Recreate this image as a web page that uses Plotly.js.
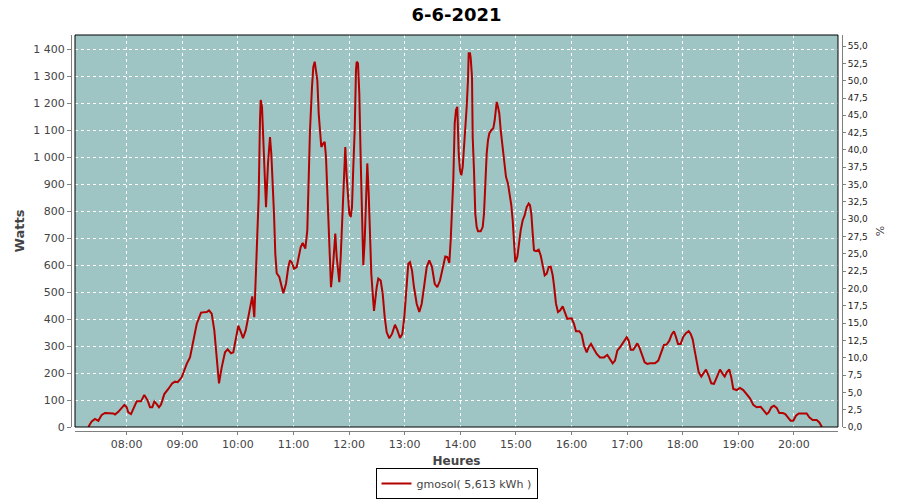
<!DOCTYPE html>
<html>
<head>
<meta charset="utf-8">
<script src="https://cdn.plot.ly/plotly-3.0.1.min.js"></script>
<style>html,body{margin:0;padding:0;background:#fff;}#chart{width:900px;height:500px;}</style>
</head>
<body>
<div id="chart"></div>
<script>
const day = "2021-06-06 ";
const times = [
"07:18:36","07:22:14","07:25:47","07:29:21","07:33:01","07:36:35","07:45:32","07:47:22","07:50:56","07:57:25",
"08:00:00","08:01:44","08:04:38","08:08:58","08:10:47","08:15:26","08:18:59","08:22:40","08:25:08","08:27:37",
"08:29:47","08:32:22","08:34:51","08:37:01","08:40:34","08:44:53","08:49:13","08:52:07","08:55:02","08:59:21",
"09:04:45","09:08:18","09:11:52","09:15:32","09:20:11","09:26:20","09:28:49","09:31:43","09:34:32","09:37:07",
"09:39:36","09:42:31","09:46:05","09:48:59","09:52:33","09:55:02","09:58:42","10:00:26","10:03:20","10:05:30",
"10:08:25","10:11:13","10:14:08","10:15:32","10:17:41","10:19:12","10:20:56","10:22:26","10:23:50","10:24:36",
"10:26:00","10:27:25","10:28:55","10:30:19","10:32:29","10:34:38","10:36:02","10:37:33","10:38:57","10:40:21",
"10:41:52","10:44:40","10:46:50","10:48:59","10:51:54","10:54:23","10:56:13","10:58:23","11:00:32","11:03:27",
"11:05:37","11:07:46","11:09:55","11:12:44","11:14:53","11:16:24","11:17:48","11:19:58","11:21:22","11:22:52",
"11:25:41","11:27:11","11:28:35","11:29:59","11:32:09","11:33:40","11:35:04","11:36:28","11:37:59","11:39:23",
"11:40:28","11:42:17","11:43:42","11:45:06","11:46:37","11:48:01","11:49:25","11:50:56","11:52:20","11:53:44",
"11:55:14","11:55:53","11:57:24","11:58:49","12:00:13","12:01:43","12:03:07","12:04:32","12:06:02","12:07:26",
"12:08:11","12:09:36","12:11:00","12:12:31","12:13:55","12:15:19","12:16:50","12:18:14","12:19:38","12:21:08",
"12:22:33","12:23:57","12:25:28","12:26:52","12:29:47","12:31:30","12:34:05","12:36:15","12:38:25","12:40:34",
"12:43:22","12:46:17","12:49:31","12:52:00","12:54:55","12:57:24","12:59:34","13:02:09","13:03:52","13:05:43",
"13:07:52","13:10:02","13:12:56","13:15:45","13:18:20","13:20:49","13:23:44","13:26:32","13:29:27","13:32:22",
"13:35:10","13:38:05","13:41:00","13:43:48","13:45:58","13:48:07","13:49:38","13:51:02","13:52:26","13:53:57",
"13:55:21","13:56:45","13:58:16","13:59:40","14:01:04","14:02:35","14:03:59","14:05:23","14:06:54","14:08:18",
"14:09:03","14:10:27","14:11:13","14:12:37","14:13:22","14:14:46","14:15:32","14:16:10","14:17:41","14:19:05",
"14:22:00","14:24:10","14:25:34","14:26:58","14:28:29","14:29:53","14:31:17","14:33:26","14:35:36","14:37:07",
"14:38:31","14:39:16","14:40:40","14:42:05","14:43:35","14:44:59","14:46:23","14:47:54","14:49:18","14:51:28",
"14:53:37","14:55:02","14:56:32","14:57:56","14:59:20","15:01:30","15:03:01","15:05:10","15:07:19","15:09:29",
"15:11:38","15:13:48","15:15:12","15:16:37","15:18:07","15:19:31","15:21:41","15:24:35","15:26:45","15:28:55",
"15:31:04","15:33:13","15:35:23","15:37:32","15:39:42","15:41:06","15:43:16","15:45:25","15:47:35","15:50:29",
"15:52:58","15:55:27","16:00:12","16:02:41","16:04:50","16:08:24","16:10:59","16:13:28","16:16:23","16:18:32",
"16:21:02","16:23:31","16:27:11","16:30:44","16:35:03","16:38:37","16:41:32","16:44:26","16:46:55","16:49:25",
"16:53:05","16:56:38","16:59:33","17:01:43","17:03:52","17:06:40","17:08:50","17:10:59","17:13:09","17:16:04",
"17:18:58","17:21:47","17:24:41","17:30:05","17:33:39","17:36:14","17:39:48","17:42:43","17:45:31","17:48:07",
"17:50:35","17:52:45","17:54:55","17:57:49","18:00:38","18:03:32","18:06:27","18:08:37","18:10:46","18:12:56",
"18:15:05","18:17:15","18:20:03","18:22:58","18:25:07","18:28:02","18:30:50","18:33:45","18:36:40","18:40:14",
"18:43:08","18:45:18","18:47:28","18:50:16","18:52:25","18:54:35","18:58:15","19:01:49","19:05:22","19:09:02",
"19:12:36","19:16:10","19:19:50","19:24:09","19:26:57","19:30:37","19:32:47","19:35:35","19:38:30","19:41:25",
"19:44:13","19:47:53","19:50:41","19:53:37","19:56:31","19:59:20","20:02:14","20:05:10","20:13:47","20:16:35",
"20:20:16","20:24:35","20:27:23","20:30:18"
];
const watts = [
0,21,30,23,45,52,50,46,56,82,
73,54,48,85,95,95,119,98,73,73,
95,85,73,83,122,141,162,168,166,184,
234,258,320,382,424,426,432,420,358,246,
162,221,277,288,273,277,351,376,351,329,
358,413,469,484,407,531,673,853,1137,1212,
1187,1063,915,815,977,1075,1014,915,791,642,
570,556,525,496,531,593,618,608,587,593,
630,667,682,661,729,939,1100,1261,1335,1354,
1286,1162,1088,1038,1051,1057,1001,890,766,655,
518,580,667,717,630,568,537,630,741,890,
1026,1038,927,865,791,778,815,964,1100,1323,
1354,1348,1237,989,741,600,692,865,977,865,
680,568,494,430,518,550,543,494,407,351,
329,345,379,360,330,345,407,518,605,611,
580,518,457,426,457,518,593,618,593,531,
518,543,593,632,630,608,692,803,915,1125,
1175,1187,1014,952,933,964,1026,1100,1187,1286,
1385,1385,1367,1298,1075,952,865,791,741,726,
726,741,791,902,1014,1063,1088,1100,1107,1137,
1181,1205,1187,1162,1100,1051,1007,964,927,902,
853,822,766,680,611,630,680,729,766,785,
815,828,822,791,717,655,652,657,636,593,
562,568,593,595,562,525,457,426,432,447,
420,401,403,382,355,355,343,302,277,296,
308,292,271,258,258,267,252,236,246,283,
299,318,333,320,286,286,299,310,296,265,
240,234,236,236,246,271,304,306,320,343,
355,333,308,308,335,348,355,345,325,283,
234,203,187,205,213,190,162,160,184,213,
197,187,203,213,184,141,137,145,137,123,
106,82,73,75,63,48,54,73,79,71,
52,52,48,36,23,23,42,50,50,36,
26,26,17,0
];
const seriesName = "gmosol( 5,613 kWh )";
const chartTitle = "6-6-2021";

const tickColor = "#808080";
const textColor = "#444444";
const fontFam = "DejaVu Sans, Verdana, sans-serif";

const trace = {
  x: times.map(t => day + t),
  y: watts,
  type: "scatter",
  mode: "lines",
  name: seriesName,
  line: {color: "#b30000", width: 2},
  showlegend: true,
  hoverinfo: "skip"
};

const layout = {
  width: 900, height: 500,
  margin: {l: 71, r: 58, t: 35, b: 69, autoexpand: false},
  paper_bgcolor: "#ffffff",
  plot_bgcolor: "#9fc4c4",
  separators: ", ",
  font: {family: fontFam, size: 11, color: textColor},
  title: {text: "<b>" + chartTitle + "</b>", x: 0.5, xref: "paper", xanchor: "center",
          y: 0.97, yref: "container", yanchor: "middle",
          font: {family: fontFam, size: 18, color: "#000000"}},
  xaxis: {
    type: "date",
    domain: [0.0052, 0.9948],
    anchor: "free", position: 0,
    range: [day + "07:04:13", day + "20:47:34"],
    tick0: day + "08:00:00", dtick: 3600000,
    tickformat: "%H:%M",
    showline: true, linecolor: tickColor, linewidth: 1,
    ticks: "outside", ticklen: 3, tickcolor: tickColor,
    showgrid: true, gridcolor: "#ffffff", gridwidth: 1, griddash: "3px,3px",
    zeroline: false,
    tickfont: {family: fontFam, size: 11, color: textColor},
    title: {text: "<b>Heures</b>", standoff: 7, font: {family: fontFam, size: 12, color: textColor}}
  },
  yaxis: {
    domain: [0.0101, 1],
    anchor: "free", position: 0,
    range: [0, 1453],
    dtick: 100, tick0: 0,
    separatethousands: true,
    showline: true, linecolor: tickColor, linewidth: 1,
    ticks: "outside", ticklen: 4, tickcolor: tickColor,
    showgrid: true, gridcolor: "#ffffff", gridwidth: 1, griddash: "3px,3px",
    zeroline: false,
    tickfont: {family: fontFam, size: 11, color: textColor},
    title: {text: "<b>Watts</b>", standoff: 4, font: {family: fontFam, size: 13, color: textColor}}
  },
  yaxis2: {
    overlaying: "y",
    side: "right",
    anchor: "free", position: 1,
    range: [0, 56.6],
    dtick: 2.5, tick0: 0,
    tickformat: ".1f",
    showline: true, linecolor: tickColor, linewidth: 1,
    ticks: "outside", ticklen: 3, tickcolor: tickColor,
    showgrid: false, zeroline: false,
    tickfont: {family: fontFam, size: 9, color: "#222222"},
    title: {text: "%", standoff: 9, font: {family: fontFam, size: 11, color: textColor}}
  },
  shapes: [{
    type: "rect", xref: "x domain", yref: "y domain", x0: 0, x1: 1, y0: 0, y1: 1,
    line: {color: "#000000", width: 1}, fillcolor: "rgba(0,0,0,0)", layer: "above"
  }],
  showlegend: true,
  legend: {
    orientation: "h", x: 0.5, xanchor: "center", xref: "paper",
    y: 0.002, yanchor: "bottom", yref: "container",
    bordercolor: "#000000", borderwidth: 1, bgcolor: "#ffffff",
    itemwidth: 30,
    font: {family: fontFam, size: 11, color: textColor}
  }
};

const dummy2 = {x: [], y: [], yaxis: "y2", type: "scatter", mode: "lines", showlegend: false, hoverinfo: "skip"};

Plotly.newPlot("chart", [trace, dummy2], layout, {staticPlot: true, displayModeBar: false});
</script>
</body>
</html>
